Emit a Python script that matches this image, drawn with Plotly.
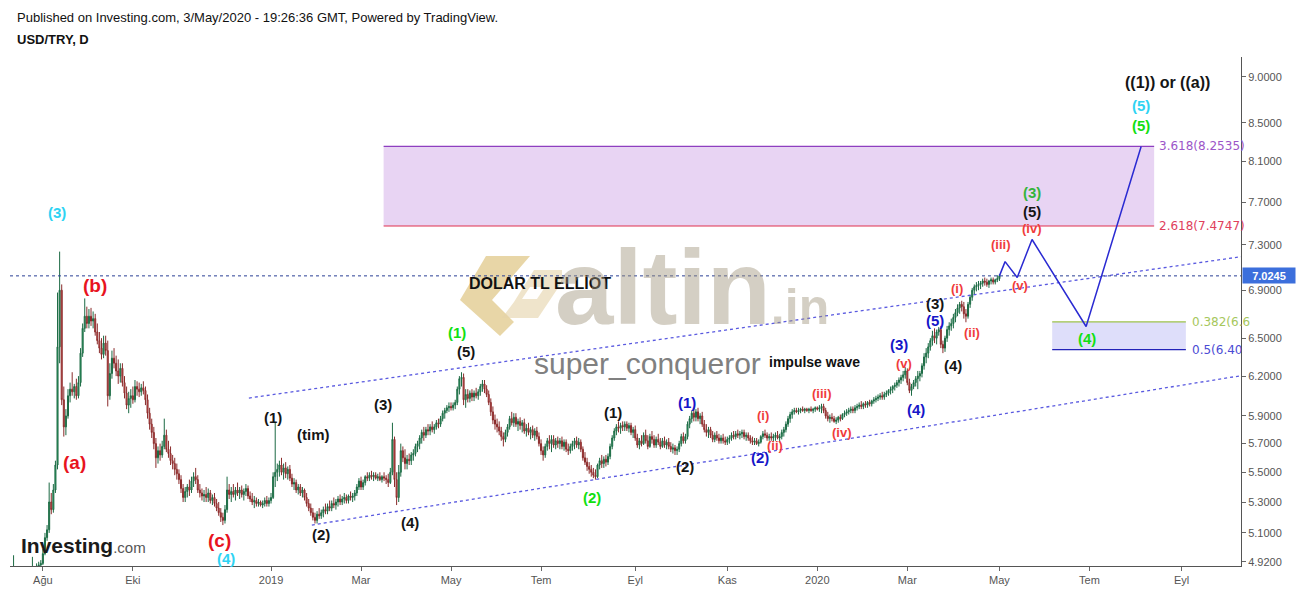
import numpy as np
import pandas as pd
import plotly.graph_objects as go

# ---------------- data (USD/TRY daily, one row = one trading week Mon..Fri) ----------------
start_date = "2018-07-09"

opens = [
    4.60, 4.64, 4.80, 4.84, 4.85,
    4.83, 4.84, 4.82, 4.85, 4.82,
    4.80, 4.79, 4.82, 4.83, 4.87,
    4.89, 4.90, 4.91, 4.97, 5.07,
    5.12, 5.30, 5.25, 5.38, 5.55,
    6.43, 6.90, 6.02, 5.82, 5.90,
    6.05, 6.10, 6.08, 6.12, 6.05,
    6.15, 6.38, 6.58, 6.68, 6.62,
    6.68, 6.64, 6.66, 6.55, 6.48,
    6.42, 6.37, 6.46, 6.40, 6.05,
    6.22, 6.34, 6.30, 6.24, 6.20,
    6.26, 6.15, 6.07, 5.98, 6.03,
    6.05, 6.02, 6.12, 6.10, 6.08,
    6.11, 6.09, 6.02, 5.92, 5.84,
    5.78, 5.70, 5.60, 5.65, 5.62,
    5.68, 5.76, 5.66, 5.63, 5.58,
    5.56, 5.52, 5.49, 5.45, 5.39,
    5.33, 5.37, 5.40, 5.38, 5.44,
    5.47, 5.45, 5.38, 5.36, 5.34,
    5.35, 5.33, 5.36, 5.31, 5.33,
    5.29, 5.26, 5.23, 5.20, 5.18,
    5.25, 5.38, 5.35, 5.37, 5.35,
    5.38, 5.36, 5.38, 5.35, 5.37,
    5.39, 5.34, 5.32, 5.30, 5.31,
    5.29, 5.30, 5.28, 5.29, 5.31,
    5.29, 5.31, 5.33, 5.47, 5.50,
    5.52, 5.55, 5.50, 5.53, 5.49,
    5.52, 5.46, 5.42, 5.43, 5.38,
    5.40, 5.36, 5.38, 5.33, 5.29,
    5.26, 5.23, 5.20, 5.18, 5.22,
    5.21, 5.23, 5.25, 5.24, 5.27,
    5.26, 5.29, 5.28, 5.30, 5.32,
    5.30, 5.32, 5.33, 5.31, 5.34,
    5.33, 5.34, 5.36, 5.40, 5.44,
    5.40, 5.43, 5.47, 5.46, 5.48,
    5.47, 5.48, 5.46, 5.47, 5.45,
    5.47, 5.46, 5.45, 5.43, 5.50,
    5.73, 5.45, 5.33, 5.50, 5.65,
    5.60, 5.56, 5.59, 5.58, 5.62,
    5.63, 5.68, 5.70, 5.74, 5.78,
    5.76, 5.80, 5.79, 5.82, 5.80,
    5.82, 5.85, 5.84, 5.88, 5.92,
    5.94, 5.96, 5.97, 5.96, 5.98,
    6.00, 6.10, 6.18, 6.19, 6.02,
    6.06, 6.03, 6.07, 6.04, 6.07,
    6.05, 6.08, 6.12, 6.14, 6.10,
    6.06, 6.00, 5.93, 5.87, 5.84,
    5.82, 5.79, 5.75, 5.73, 5.78,
    5.82, 5.88, 5.85, 5.89, 5.84,
    5.86, 5.83, 5.85, 5.79, 5.81,
    5.78, 5.80, 5.76, 5.79, 5.75,
    5.70, 5.65, 5.62, 5.68, 5.72,
    5.70, 5.73, 5.69, 5.72, 5.70,
    5.72, 5.68, 5.71, 5.66, 5.65,
    5.68, 5.70, 5.72, 5.69, 5.71,
    5.66, 5.60, 5.57, 5.54, 5.52,
    5.50, 5.48, 5.47, 5.55, 5.58,
    5.56, 5.59, 5.57, 5.61, 5.68,
    5.74, 5.79, 5.82, 5.81, 5.83,
    5.82, 5.84, 5.81, 5.83, 5.78,
    5.80, 5.74, 5.69, 5.72, 5.70,
    5.76, 5.72, 5.68, 5.75, 5.73,
    5.69, 5.73, 5.71, 5.68, 5.72,
    5.69, 5.71, 5.68, 5.66, 5.67,
    5.65, 5.66, 5.70, 5.75, 5.72,
    5.75, 5.84, 5.88, 5.92, 5.89,
    5.93, 5.88, 5.90, 5.84, 5.80,
    5.78, 5.80, 5.76, 5.73, 5.76,
    5.74, 5.72, 5.74, 5.72, 5.71,
    5.73, 5.74, 5.76, 5.75, 5.77,
    5.76, 5.77, 5.78, 5.75, 5.76,
    5.74, 5.72, 5.71, 5.72, 5.70,
    5.71, 5.75, 5.77, 5.76, 5.74,
    5.75, 5.74, 5.75, 5.76, 5.74,
    5.75, 5.78, 5.80, 5.84, 5.88,
    5.91, 5.93, 5.94, 5.93, 5.94,
    5.95, 5.94, 5.95, 5.94, 5.95,
    5.94, 5.95, 5.96, 5.95, 5.96,
    5.97, 5.94, 5.90, 5.88, 5.89,
    5.88, 5.86, 5.87, 5.89, 5.88,
    5.91, 5.92, 5.93, 5.94, 5.95,
    5.94, 5.96, 5.97, 5.98, 5.97,
    5.99, 5.98, 6.00, 5.99, 6.01,
    6.02, 6.03, 6.04, 6.05, 6.04,
    6.06, 6.07, 6.09, 6.10, 6.12,
    6.13, 6.15, 6.17, 6.19, 6.21,
    6.24, 6.15, 6.09, 6.12, 6.15,
    6.18, 6.20, 6.22, 6.28, 6.35,
    6.38, 6.43, 6.48, 6.52, 6.50,
    6.55, 6.57, 6.45, 6.42, 6.50,
    6.57, 6.60, 6.62, 6.67, 6.71,
    6.75, 6.78, 6.76, 6.70, 6.68,
    6.78, 6.84, 6.90, 6.93, 6.94,
    6.95, 6.96, 6.98, 6.97, 6.95,
    6.98, 6.99, 6.97, 6.99, 7.00,
]

highs = [
    4.66, 4.87, 4.86, 4.96, 4.88,
    4.86, 4.86, 4.87, 4.88, 4.84,
    4.84, 4.85, 4.95, 4.89, 4.91,
    4.92, 4.93, 5.00, 5.10, 5.15,
    5.43, 5.36, 5.42, 5.58, 6.88,
    7.24, 6.95, 6.12, 5.95, 6.10,
    6.15, 6.23, 6.14, 6.18, 6.20,
    6.42, 6.62, 6.83, 6.76, 6.74,
    6.75, 6.72, 6.70, 6.62, 6.55,
    6.50, 6.52, 6.52, 6.48, 6.30,
    6.40, 6.42, 6.36, 6.33, 6.30,
    6.30, 6.20, 6.12, 6.08, 6.10,
    6.12, 6.17, 6.16, 6.15, 6.14,
    6.16, 6.12, 6.06, 5.96, 5.88,
    5.82, 5.74, 5.68, 5.70, 5.72,
    5.88, 5.80, 5.72, 5.68, 5.62,
    5.60, 5.56, 5.52, 5.48, 5.42,
    5.40, 5.42, 5.45, 5.47, 5.50,
    5.53, 5.48, 5.42, 5.39, 5.38,
    5.40, 5.39, 5.38, 5.35, 5.36,
    5.32, 5.30, 5.26, 5.23, 5.28,
    5.47, 5.42, 5.40, 5.42, 5.40,
    5.43, 5.40, 5.41, 5.39, 5.42,
    5.41, 5.37, 5.36, 5.34, 5.33,
    5.32, 5.31, 5.31, 5.33, 5.34,
    5.33, 5.36, 5.50, 5.85, 5.56,
    5.58, 5.60, 5.56, 5.57, 5.54,
    5.55, 5.49, 5.46, 5.45, 5.42,
    5.42, 5.40, 5.39, 5.36, 5.32,
    5.29, 5.26, 5.23, 5.24, 5.26,
    5.25, 5.27, 5.29, 5.29, 5.31,
    5.31, 5.33, 5.32, 5.34, 5.35,
    5.34, 5.36, 5.35, 5.35, 5.37,
    5.36, 5.38, 5.42, 5.46, 5.47,
    5.45, 5.48, 5.50, 5.50, 5.51,
    5.50, 5.50, 5.49, 5.50, 5.48,
    5.50, 5.48, 5.49, 5.53, 5.85,
    5.75, 5.50, 5.55, 5.70, 5.68,
    5.66, 5.62, 5.63, 5.64, 5.66,
    5.70, 5.72, 5.76, 5.80, 5.82,
    5.82, 5.84, 5.84, 5.86, 5.84,
    5.87, 5.88, 5.90, 5.94, 5.96,
    5.98, 6.00, 6.00, 6.00, 6.02,
    6.12, 6.20, 6.23, 6.22, 6.10,
    6.10, 6.09, 6.10, 6.09, 6.11,
    6.10, 6.14, 6.17, 6.17, 6.13,
    6.09, 6.03, 5.97, 5.91, 5.88,
    5.86, 5.82, 5.78, 5.80, 5.84,
    5.90, 5.93, 5.92, 5.92, 5.88,
    5.89, 5.87, 5.88, 5.84, 5.85,
    5.82, 5.83, 5.81, 5.82, 5.78,
    5.73, 5.68, 5.70, 5.74, 5.76,
    5.76, 5.76, 5.74, 5.75, 5.74,
    5.75, 5.73, 5.73, 5.70, 5.70,
    5.72, 5.74, 5.75, 5.74, 5.73,
    5.68, 5.64, 5.60, 5.57, 5.55,
    5.53, 5.52, 5.56, 5.60, 5.62,
    5.61, 5.62, 5.63, 5.70, 5.76,
    5.81, 5.84, 5.86, 5.85, 5.86,
    5.86, 5.86, 5.85, 5.85, 5.82,
    5.83, 5.77, 5.74, 5.76, 5.78,
    5.80, 5.76, 5.77, 5.79, 5.76,
    5.75, 5.77, 5.74, 5.74, 5.75,
    5.73, 5.74, 5.71, 5.70, 5.69,
    5.68, 5.72, 5.77, 5.78, 5.77,
    5.86, 5.90, 5.94, 5.96, 5.95,
    5.96, 5.92, 5.93, 5.87, 5.84,
    5.82, 5.82, 5.79, 5.78, 5.79,
    5.77, 5.76, 5.77, 5.75, 5.75,
    5.76, 5.78, 5.79, 5.79, 5.80,
    5.79, 5.80, 5.80, 5.78, 5.78,
    5.76, 5.75, 5.74, 5.74, 5.73,
    5.76, 5.79, 5.80, 5.78, 5.77,
    5.78, 5.77, 5.78, 5.79, 5.77,
    5.80, 5.82, 5.86, 5.90, 5.93,
    5.95, 5.96, 5.96, 5.96, 5.96,
    5.97, 5.96, 5.96, 5.96, 5.97,
    5.96, 5.97, 5.97, 5.98, 5.99,
    5.99, 5.96, 5.93, 5.91, 5.92,
    5.90, 5.89, 5.90, 5.91, 5.92,
    5.94, 5.95, 5.96, 5.97, 5.97,
    5.98, 5.99, 6.00, 6.01, 6.00,
    6.01, 6.01, 6.02, 6.02, 6.04,
    6.05, 6.06, 6.07, 6.08, 6.08,
    6.09, 6.10, 6.12, 6.13, 6.15,
    6.17, 6.19, 6.21, 6.24, 6.27,
    6.26, 6.18, 6.14, 6.17, 6.20,
    6.24, 6.24, 6.30, 6.38, 6.42,
    6.46, 6.50, 6.56, 6.58, 6.57,
    6.59, 6.60, 6.48, 6.52, 6.60,
    6.63, 6.66, 6.70, 6.74, 6.78,
    6.80, 6.81, 6.80, 6.74, 6.80,
    6.86, 6.92, 6.95, 6.97, 6.98,
    6.98, 7.00, 7.01, 7.00, 6.99,
    7.01, 7.01, 7.00, 7.03, 7.04,
]

lows = [
    4.58, 4.62, 4.77, 4.80, 4.81,
    4.81, 4.80, 4.81, 4.80, 4.79,
    4.77, 4.78, 4.80, 4.81, 4.85,
    4.87, 4.88, 4.90, 4.96, 5.05,
    5.10, 5.22, 5.23, 5.36, 5.52,
    6.30, 5.98, 5.75, 5.76, 5.88,
    6.00, 6.05, 6.03, 6.02, 6.03,
    6.12, 6.35, 6.55, 6.58, 6.58,
    6.60, 6.58, 6.52, 6.45, 6.38,
    6.33, 6.34, 6.36, 5.97, 6.02,
    6.18, 6.26, 6.20, 6.14, 6.15,
    6.12, 6.03, 5.95, 5.92, 5.96,
    5.99, 6.00, 6.05, 6.04, 6.05,
    6.06, 5.98, 5.88, 5.80, 5.74,
    5.66, 5.53, 5.56, 5.58, 5.60,
    5.66, 5.64, 5.60, 5.55, 5.52,
    5.48, 5.45, 5.42, 5.36, 5.30,
    5.30, 5.33, 5.34, 5.36, 5.40,
    5.42, 5.36, 5.33, 5.31, 5.30,
    5.30, 5.30, 5.29, 5.28, 5.27,
    5.24, 5.21, 5.17, 5.15, 5.16,
    5.23, 5.32, 5.30, 5.33, 5.31,
    5.34, 5.32, 5.33, 5.31, 5.34,
    5.32, 5.30, 5.28, 5.26, 5.27,
    5.27, 5.27, 5.26, 5.27, 5.27,
    5.27, 5.29, 5.32, 5.40, 5.44,
    5.47, 5.48, 5.45, 5.46, 5.45,
    5.44, 5.40, 5.38, 5.36, 5.35,
    5.34, 5.33, 5.31, 5.27, 5.24,
    5.21, 5.18, 5.16, 5.16, 5.19,
    5.19, 5.20, 5.22, 5.22, 5.24,
    5.24, 5.26, 5.25, 5.27, 5.28,
    5.28, 5.29, 5.29, 5.29, 5.31,
    5.30, 5.31, 5.34, 5.38, 5.38,
    5.38, 5.41, 5.44, 5.44, 5.45,
    5.44, 5.45, 5.44, 5.44, 5.43,
    5.44, 5.42, 5.40, 5.42, 5.48,
    5.40, 5.28, 5.30, 5.47, 5.57,
    5.52, 5.52, 5.55, 5.55, 5.58,
    5.61, 5.64, 5.66, 5.70, 5.72,
    5.74, 5.76, 5.76, 5.78, 5.77,
    5.80, 5.81, 5.82, 5.86, 5.88,
    5.92, 5.93, 5.94, 5.94, 5.95,
    5.98, 6.06, 6.12, 5.98, 5.96,
    6.00, 6.00, 6.01, 6.01, 6.03,
    6.02, 6.05, 6.08, 6.07, 6.04,
    5.98, 5.90, 5.84, 5.80, 5.78,
    5.76, 5.72, 5.68, 5.71, 5.75,
    5.80, 5.83, 5.82, 5.82, 5.79,
    5.80, 5.78, 5.77, 5.75, 5.76,
    5.73, 5.74, 5.72, 5.73, 5.68,
    5.62, 5.58, 5.60, 5.65, 5.66,
    5.64, 5.67, 5.66, 5.67, 5.66,
    5.66, 5.65, 5.64, 5.62, 5.63,
    5.65, 5.66, 5.67, 5.66, 5.64,
    5.58, 5.55, 5.51, 5.49, 5.47,
    5.46, 5.45, 5.46, 5.52, 5.53,
    5.53, 5.54, 5.55, 5.59, 5.66,
    5.72, 5.76, 5.78, 5.77, 5.79,
    5.79, 5.79, 5.78, 5.76, 5.74,
    5.72, 5.67, 5.66, 5.68, 5.69,
    5.70, 5.66, 5.67, 5.70, 5.67,
    5.67, 5.69, 5.66, 5.67, 5.67,
    5.66, 5.66, 5.64, 5.63, 5.62,
    5.62, 5.64, 5.68, 5.70, 5.70,
    5.73, 5.81, 5.85, 5.86, 5.86,
    5.86, 5.84, 5.82, 5.78, 5.75,
    5.74, 5.74, 5.71, 5.71, 5.72,
    5.70, 5.70, 5.70, 5.69, 5.69,
    5.70, 5.72, 5.73, 5.73, 5.74,
    5.73, 5.74, 5.73, 5.72, 5.72,
    5.70, 5.69, 5.69, 5.69, 5.68,
    5.70, 5.73, 5.74, 5.72, 5.72,
    5.72, 5.71, 5.72, 5.73, 5.71,
    5.73, 5.75, 5.78, 5.82, 5.85,
    5.88, 5.91, 5.92, 5.91, 5.92,
    5.93, 5.92, 5.93, 5.92, 5.93,
    5.92, 5.93, 5.94, 5.93, 5.92,
    5.92, 5.88, 5.86, 5.85, 5.86,
    5.85, 5.84, 5.85, 5.86, 5.87,
    5.89, 5.90, 5.91, 5.92, 5.92,
    5.92, 5.94, 5.95, 5.95, 5.95,
    5.96, 5.96, 5.97, 5.97, 5.99,
    6.00, 6.01, 6.02, 6.02, 6.02,
    6.04, 6.05, 6.06, 6.07, 6.09,
    6.11, 6.12, 6.14, 6.16, 6.18,
    6.13, 6.07, 6.05, 6.10, 6.12,
    6.10, 6.16, 6.19, 6.25, 6.30,
    6.34, 6.40, 6.44, 6.46, 6.45,
    6.52, 6.42, 6.38, 6.39, 6.47,
    6.52, 6.56, 6.58, 6.63, 6.68,
    6.70, 6.72, 6.66, 6.63, 6.66,
    6.75, 6.81, 6.86, 6.89, 6.90,
    6.91, 6.93, 6.94, 6.93, 6.92,
    6.95, 6.95, 6.95, 6.97, 6.98,
]

closes = [
    4.64, 4.80, 4.84, 4.85, 4.83,
    4.84, 4.82, 4.85, 4.82, 4.80,
    4.79, 4.82, 4.83, 4.87, 4.89,
    4.90, 4.91, 4.97, 5.07, 5.12,
    5.30, 5.25, 5.38, 5.55, 6.43,
    6.90, 6.02, 5.82, 5.90, 6.05,
    6.10, 6.08, 6.12, 6.05, 6.15,
    6.38, 6.58, 6.68, 6.62, 6.68,
    6.64, 6.66, 6.55, 6.48, 6.42,
    6.37, 6.46, 6.40, 6.05, 6.22,
    6.34, 6.30, 6.24, 6.20, 6.26,
    6.15, 6.07, 5.98, 6.03, 6.05,
    6.02, 6.12, 6.10, 6.08, 6.11,
    6.09, 6.02, 5.92, 5.84, 5.78,
    5.70, 5.60, 5.65, 5.62, 5.68,
    5.76, 5.66, 5.63, 5.58, 5.56,
    5.52, 5.49, 5.45, 5.39, 5.33,
    5.37, 5.40, 5.38, 5.44, 5.47,
    5.45, 5.38, 5.36, 5.34, 5.35,
    5.33, 5.36, 5.31, 5.33, 5.29,
    5.26, 5.23, 5.20, 5.18, 5.25,
    5.38, 5.35, 5.37, 5.35, 5.38,
    5.36, 5.38, 5.35, 5.37, 5.39,
    5.34, 5.32, 5.30, 5.31, 5.29,
    5.30, 5.28, 5.29, 5.31, 5.29,
    5.31, 5.33, 5.47, 5.50, 5.52,
    5.55, 5.50, 5.53, 5.49, 5.52,
    5.46, 5.42, 5.43, 5.38, 5.40,
    5.36, 5.38, 5.33, 5.29, 5.26,
    5.23, 5.20, 5.18, 5.22, 5.21,
    5.23, 5.25, 5.24, 5.27, 5.26,
    5.29, 5.28, 5.30, 5.32, 5.30,
    5.32, 5.33, 5.31, 5.34, 5.33,
    5.34, 5.36, 5.40, 5.44, 5.40,
    5.43, 5.47, 5.46, 5.48, 5.47,
    5.48, 5.46, 5.47, 5.45, 5.47,
    5.46, 5.45, 5.43, 5.50, 5.73,
    5.45, 5.33, 5.50, 5.65, 5.60,
    5.56, 5.59, 5.58, 5.62, 5.63,
    5.68, 5.70, 5.74, 5.78, 5.76,
    5.80, 5.79, 5.82, 5.80, 5.82,
    5.85, 5.84, 5.88, 5.92, 5.94,
    5.96, 5.97, 5.96, 5.98, 6.00,
    6.10, 6.18, 6.19, 6.02, 6.06,
    6.03, 6.07, 6.04, 6.07, 6.05,
    6.08, 6.12, 6.14, 6.10, 6.06,
    6.00, 5.93, 5.87, 5.84, 5.82,
    5.79, 5.75, 5.73, 5.78, 5.82,
    5.88, 5.85, 5.89, 5.84, 5.86,
    5.83, 5.85, 5.79, 5.81, 5.78,
    5.80, 5.76, 5.79, 5.75, 5.70,
    5.65, 5.62, 5.68, 5.72, 5.70,
    5.73, 5.69, 5.72, 5.70, 5.72,
    5.68, 5.71, 5.66, 5.65, 5.68,
    5.70, 5.72, 5.69, 5.71, 5.66,
    5.60, 5.57, 5.54, 5.52, 5.50,
    5.48, 5.47, 5.55, 5.58, 5.56,
    5.59, 5.57, 5.61, 5.68, 5.74,
    5.79, 5.82, 5.81, 5.83, 5.82,
    5.84, 5.81, 5.83, 5.78, 5.80,
    5.74, 5.69, 5.72, 5.70, 5.76,
    5.72, 5.68, 5.75, 5.73, 5.69,
    5.73, 5.71, 5.68, 5.72, 5.69,
    5.71, 5.68, 5.66, 5.67, 5.65,
    5.66, 5.70, 5.75, 5.72, 5.75,
    5.84, 5.88, 5.92, 5.89, 5.93,
    5.88, 5.90, 5.84, 5.80, 5.78,
    5.80, 5.76, 5.73, 5.76, 5.74,
    5.72, 5.74, 5.72, 5.71, 5.73,
    5.74, 5.76, 5.75, 5.77, 5.76,
    5.77, 5.78, 5.75, 5.76, 5.74,
    5.72, 5.71, 5.72, 5.70, 5.71,
    5.75, 5.77, 5.76, 5.74, 5.75,
    5.74, 5.75, 5.76, 5.74, 5.75,
    5.78, 5.80, 5.84, 5.88, 5.91,
    5.93, 5.94, 5.93, 5.94, 5.95,
    5.94, 5.95, 5.94, 5.95, 5.94,
    5.95, 5.96, 5.95, 5.96, 5.97,
    5.94, 5.90, 5.88, 5.89, 5.88,
    5.86, 5.87, 5.89, 5.88, 5.91,
    5.92, 5.93, 5.94, 5.95, 5.94,
    5.96, 5.97, 5.98, 5.97, 5.99,
    5.98, 6.00, 5.99, 6.01, 6.02,
    6.03, 6.04, 6.05, 6.04, 6.06,
    6.07, 6.09, 6.10, 6.12, 6.13,
    6.15, 6.17, 6.19, 6.21, 6.24,
    6.15, 6.09, 6.12, 6.15, 6.18,
    6.20, 6.22, 6.28, 6.35, 6.38,
    6.43, 6.48, 6.52, 6.50, 6.55,
    6.57, 6.45, 6.42, 6.50, 6.57,
    6.60, 6.62, 6.67, 6.71, 6.75,
    6.78, 6.76, 6.70, 6.68, 6.78,
    6.84, 6.90, 6.93, 6.94, 6.95,
    6.96, 6.98, 6.97, 6.95, 6.98,
    6.99, 6.97, 6.99, 7.00, 7.0245,
]

last_price = 7.0245

# Fibonacci projection zones
fib_ratios = ["3.618", "2.618", "0.382", "0.5"]
fib_prices = [8.2535, 7.4747, 6.6330, 6.4080]
fib_upper_span = ["2019-03-15 19:00", "2020-08-12 22:00"]
fib_lower_span = ["2020-06-05 05:00", "2020-09-03 02:00"]

# projected wave path
proj_dates = ["2020-05-01", "2020-05-05 17:00", "2020-05-13 12:00",
              "2020-05-22 14:00", "2020-06-29 10:00", "2020-08-04 17:00"]
proj_prices = [7.0245, 7.15, 7.01, 7.35, 6.595, 8.2535]

# trend channel
chan_upper_dates = ["2018-12-17 10:00", "2020-10-09 10:00"]
chan_upper_prices = [6.033, 7.194]
chan_lower_dates = ["2019-01-28 12:00", "2020-10-09 10:00"]
chan_lower_prices = [5.150, 6.203]

x_range = ["2018-07-10 07:00", "2020-10-09 10:00"]

xtick_dates = ["2018-08-01", "2018-10-01", "2019-01-01", "2019-03-01", "2019-05-01",
               "2019-07-01", "2019-09-02", "2019-11-01", "2020-01-01", "2020-03-02",
               "2020-05-01", "2020-07-01", "2020-09-01"]
xtick_labels = ["Ağu", "Eki", "2019", "Mar", "May", "Tem", "Eyl", "Kas",
                "2020", "Mar", "May", "Tem", "Eyl"]
ytick_vals = [4.92, 5.1, 5.3, 5.5, 5.7, 5.9, 6.2, 6.5, 6.9, 7.3, 7.7, 8.1, 8.5, 9.0]
y_range = [4.894, 9.226]

# Elliott wave labels: text, date, price, colour, size
CYAN, RED, RED2, BLACK, GREEN, GREEN2, BLUE = "#2fd3f3", "#e8141e", "#f03c3c", "#151515", "#12e012", "#36b43c", "#1616c8"
wave_labels = [
    ("(3)", "2018-08-09 19:00", 7.60, CYAN, 15),
    ("(b)", "2018-09-04 21:00", 6.94, RED, 19),
    ("(a)", "2018-08-21 21:00", 5.57, RED, 19),
    ("(c)", "2018-11-27 14:00", 5.05, RED, 19),
    ("(4)", "2018-11-30 10:00", 4.943, CYAN, 15),
    ("(1)", "2019-01-01 21:00", 5.886, BLACK, 15),
    ("(tim)", "2019-01-29 10:00", 5.768, BLACK, 15),
    ("(2)", "2019-02-01 19:00", 5.092, BLACK, 15),
    ("(3)", "2019-03-15 10:00", 5.981, BLACK, 15),
    ("(4)", "2019-04-03 07:00", 5.169, BLACK, 15),
    ("(1)", "2019-05-03 17:00", 6.550, GREEN, 15),
    ("(5)", "2019-05-10", 6.389, BLACK, 15),
    ("(2)", "2019-08-02 14:00", 5.333, GREEN, 15),
    ("(1)", "2019-08-16 14:00", 5.922, BLACK, 15),
    ("(2)", "2019-10-04", 5.543, BLACK, 15),
    ("(1)", "2019-10-04 22:00", 6.003, BLUE, 15),
    ("(2)", "2019-11-22 12:00", 5.600, BLUE, 15),
    ("(i)", "2019-11-26 05:00", 5.901, RED2, 13),
    ("(ii)", "2019-12-04", 5.685, RED2, 13),
    ("(iii)", "2020-01-03 10:00", 6.070, RED2, 13),
    ("(iv)", "2020-01-16 22:00", 5.782, RED2, 13),
    ("(3)", "2020-02-25 02:00", 6.445, BLUE, 15),
    ("(v)", "2020-02-27 12:00", 6.30, RED2, 13),
    ("(4)", "2020-03-06 07:00", 5.951, BLUE, 15),
    ("(3)", "2020-03-19 10:00", 6.790, BLACK, 15),
    ("(5)", "2020-03-19 10:00", 6.641, BLUE, 15),
    ("(4)", "2020-04-01", 6.279, BLACK, 15),
    ("(i)", "2020-04-02 22:00", 6.913, RED2, 13),
    ("(ii)", "2020-04-14 02:00", 6.550, RED2, 13),
    ("(iii)", "2020-05-01 21:00", 7.30, RED2, 13),
    ("(v)", "2020-05-14 22:00", 6.94, RED2, 13),
    ("(iv)", "2020-05-22 14:00", 7.456, RED2, 13),
    ("(5)", "2020-05-22 14:00", 7.615, BLACK, 15),
    ("(3)", "2020-05-22 14:00", 7.798, GREEN2, 15),
    ("(4)", "2020-06-29 22:00", 6.501, GREEN, 15),
    ("(5)", "2020-08-04 17:00", 8.69, CYAN, 15),
    ("(5)", "2020-08-04 17:00", 8.467, GREEN, 15),
    ("((1)) or ((a))", "2020-08-21 02:00", 8.933, BLACK, 16),
]

# ---------------- figure ----------------
dates = pd.bdate_range(start_date, periods=len(closes))
FONT = "Liberation Sans, Arial, sans-serif"
W, H = 1299, 590
ML, MR, MT, MB = 10, 58, 57, 24


def px(xp):
    return (xp - ML) / (W - ML - MR)


def py(yp):
    return (H - MB - yp) / (H - MT - MB)


fig = go.Figure()

# fib zones (boxes)
fig.add_trace(go.Scatter(
    x=[fib_upper_span[0], fib_upper_span[1], fib_upper_span[1], fib_upper_span[0], fib_upper_span[0]],
    y=[fib_prices[1], fib_prices[1], fib_prices[0], fib_prices[0], fib_prices[1]],
    fill="toself", fillcolor="rgba(205,160,228,0.45)", mode="lines",
    line=dict(width=0), hoverinfo="skip"))
fig.add_trace(go.Scatter(
    x=[fib_lower_span[0], fib_lower_span[1], fib_lower_span[1], fib_lower_span[0], fib_lower_span[0]],
    y=[fib_prices[3], fib_prices[3], fib_prices[2], fib_prices[2], fib_prices[3]],
    fill="toself", fillcolor="rgba(190,190,245,0.5)", mode="lines",
    line=dict(width=0), hoverinfo="skip"))
fib_line_colors = ["#8e3fc0", "#e0304f", "#9cc24a", "#2323b8"]
for i in range(4):
    span = fib_upper_span if i < 2 else fib_lower_span
    fig.add_trace(go.Scatter(x=span, y=[fib_prices[i]] * 2, mode="lines",
                             line=dict(color=fib_line_colors[i], width=1.2), hoverinfo="skip"))

# channel lines
fig.add_trace(go.Scatter(x=chan_upper_dates, y=chan_upper_prices, mode="lines",
                         line=dict(color="#5a5ae0", width=1.3, dash="dot"), hoverinfo="skip"))
fig.add_trace(go.Scatter(x=chan_lower_dates, y=chan_lower_prices, mode="lines",
                         line=dict(color="#5a5ae0", width=1.3, dash="dot"), hoverinfo="skip"))
# last price line
fig.add_trace(go.Scatter(x=x_range, y=[last_price, last_price], mode="lines",
                         line=dict(color="#2a3f95", width=1, dash="dot"), hoverinfo="skip"))

# candles
fig.add_trace(go.Candlestick(
    x=dates, open=opens, high=highs, low=lows, close=closes,
    increasing=dict(line=dict(color="#1c6a44", width=1), fillcolor="#35b070"),
    decreasing=dict(line=dict(color="#8a2b2b", width=1), fillcolor="#ec5f5f"),
    hoverinfo="skip"))

# projection path
fig.add_trace(go.Scatter(x=proj_dates, y=proj_prices, mode="lines",
                         line=dict(color="#2a2ad2", width=1.5), hoverinfo="skip"))

ann = []
for text, d, p, col, size in wave_labels:
    ann.append(dict(x=d, y=np.log10(p), xref="x", yref="y", text="<b>%s</b>" % text,
                    showarrow=False, font=dict(family=FONT, size=size, color=col)))

# fib labels
fib_label_colors = ["#9c55c8", "#e0405c", "#a6c75c", "#4b4bd4"]
fib_label_texts = ["%s(%.4f)" % (fib_ratios[0], fib_prices[0]),
                   "%s(%.4f)" % (fib_ratios[1], fib_prices[1]),
                   "%s(6.6" % fib_ratios[2],
                   "%s(6.40" % fib_ratios[3]]
fib_label_x = ["2020-08-14 07:00", "2020-08-14 07:00", "2020-09-04 22:00", "2020-09-04 22:00"]
for i in range(4):
    ann.append(dict(x=fib_label_x[i], y=np.log10(fib_prices[i]), xref="x", yref="y",
                    text=fib_label_texts[i], showarrow=False, xanchor="left",
                    font=dict(family="DejaVu Sans, sans-serif", size=12, color=fib_label_colors[i])))

# chart notes
ann.append(dict(x="2019-06-28 07:00", y=np.log10(6.96), xref="x", yref="y",
                text="<b>DOLAR TL ELLİOT</b>", showarrow=False,
                font=dict(family=FONT, size=16, color="#111111")))
ann.append(dict(x="2019-09-09 22:00", y=np.log10(6.30), xref="x", yref="y",
                text="super_conqueror", showarrow=False,
                font=dict(family=FONT, size=30, color="#808080")))
ann.append(dict(x="2019-12-30 14:00", y=np.log10(6.31), xref="x", yref="y",
                text="<b>impulse wave</b>", showarrow=False,
                font=dict(family=FONT, size=14, color="#111111")))

# altin.in watermark
ann.append(dict(x=px(553), y=py(287), xref="paper", yref="paper", xanchor="left", yanchor="middle",
                text="<b>altin<span style='font-size:50px'>.in</span></b>", showarrow=False,
                font=dict(family=FONT, size=105, color="rgba(160,148,125,0.45)")))

# header
ann.append(dict(x=px(15), y=py(17), xref="paper", yref="paper", xanchor="left", yanchor="middle",
                text="Published on Investing.com, 3/May/2020 - 19:26:36 GMT, Powered by TradingView.",
                showarrow=False, font=dict(family=FONT, size=13, color="#111111")))
ann.append(dict(x=px(15), y=py(40), xref="paper", yref="paper", xanchor="left", yanchor="middle",
                text="<b>USD/TRY, D</b>", showarrow=False, font=dict(family=FONT, size=13, color="#111111")))
# Investing.com logo
ann.append(dict(x=px(19), y=py(545), xref="paper", yref="paper", xanchor="left", yanchor="middle",
                text="<b>Investing</b><span style='font-size:15px;color:#555555'>.com</span>",
                showarrow=False, font=dict(family=FONT, size=21, color="#1a1a1a")))
# last price tag
ann.append(dict(x=1, y=np.log10(last_price), xref="paper", yref="y", xanchor="left", yanchor="middle",
                xshift=1, text="<b>%.4f</b>" % last_price, showarrow=False, bgcolor="#3c6fdc",
                width=50, height=13, borderpad=1,
                font=dict(family=FONT, size=11, color="#ffffff")))


def path(points):
    s = "M %f %f" % (px(points[0][0]), py(points[0][1]))
    for a, b in points[1:]:
        s += " L %f %f" % (px(a), py(b))
    return s + " Z"


# altin.in logo mark (decoration)
shapes = [
    dict(type="path", xref="paper", yref="paper", layer="below", line=dict(width=0),
         fillcolor="rgba(222,196,130,0.7)",
         path=path([(486, 256), (530, 256), (492, 300), (514, 322), (500, 336), (460, 300)])),
    dict(type="path", xref="paper", yref="paper", layer="below", line=dict(width=0),
         fillcolor="rgba(228,210,168,0.6)",
         path=path([(534, 270), (562, 270), (562, 282), (538, 318), (502, 318), (514, 302)])),
    dict(type="path", xref="paper", yref="paper", layer="below", line=dict(width=0),
         fillcolor="rgba(255,255,255,0.95)",
         path=path([(530, 287), (545, 287), (537, 299), (522, 299)])),
]

fig.update_layout(
    width=W, height=H, margin=dict(l=ML, r=MR, t=MT, b=MB, autoexpand=False),
    paper_bgcolor="white", plot_bgcolor="white", showlegend=False,
    hovermode=False, annotations=ann, shapes=shapes,
    xaxis=dict(type="date", range=x_range, rangebreaks=[dict(bounds=["sat", "mon"])],
               tickvals=xtick_dates, ticktext=xtick_labels, ticks="outside", ticklen=4,
               tickcolor="#666666", showline=True, linecolor="#555555", linewidth=1,
               showgrid=False, zeroline=False, rangeslider=dict(visible=False), automargin=False,
               tickfont=dict(family=FONT, size=11, color="#555555")),
    yaxis=dict(type="log", side="right", range=[np.log10(y_range[0]), np.log10(y_range[1])],
               tickvals=ytick_vals, ticktext=["%.4f" % v for v in ytick_vals],
               ticks="outside", ticklen=4, tickcolor="#666666", showline=True, automargin=False,
               linecolor="#555555", linewidth=1, showgrid=False, zeroline=False,
               tickfont=dict(family=FONT, size=11, color="#555555")),
)

fig.write_html("out.html", config={"displayModeBar": False},
               post_script="document.body.style.margin='0px';document.body.style.padding='0px';")
